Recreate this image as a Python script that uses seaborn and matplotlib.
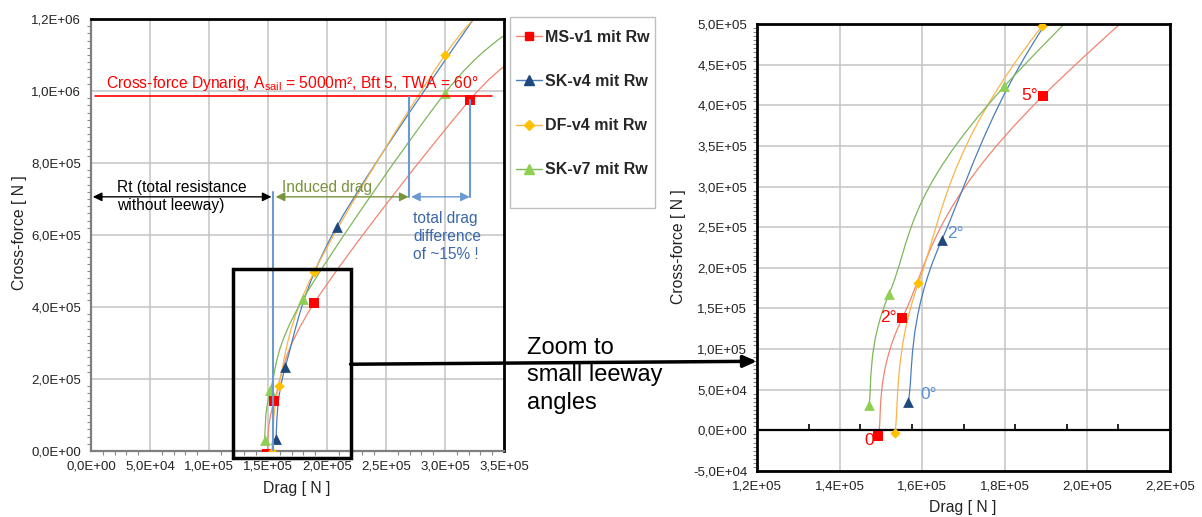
import numpy as np
import matplotlib
matplotlib.use("Agg")
import matplotlib.pyplot as plt
import seaborn as sns
from matplotlib.path import Path
from matplotlib.patches import PathPatch, Rectangle, ConnectionPatch
from matplotlib.lines import Line2D
from matplotlib.ticker import FuncFormatter, MultipleLocator, FixedLocator

# ---------------- data ----------------
series_names = ["MS-v1 mit Rw", "SK-v4 mit Rw", "DF-v4 mit Rw", "SK-v7 mit Rw"]

ms_v1_drag = [149400, 155200, 189300, 321000, 375000]
ms_v1_cross = [-7400, 138300, 411800, 975000, 1120000]

sk_v4_drag = [156600, 164700, 208200, 345000]
sk_v4_cross = [34400, 233800, 623000, 1300000]

df_v4_drag = [153400, 159100, 189100, 300000, 355000]
df_v4_cross = [-3300, 181300, 498000, 1100000, 1290000]

sk_v7_drag = [147100, 152000, 179900, 300000, 360000]
sk_v7_cross = [30800, 168200, 423300, 994000, 1180000]

dynarig_cross_force = 986000
rt_no_leeway = 154500
arrow_level = 706000
drag_sk = 269700
drag_ms = 321000

# ---------------- styling ----------------
sns.set_theme(style="white")
plt.rcParams["font.family"] = ["Liberation Sans", "DejaVu Sans"]
plt.rcParams["mathtext.fontset"] = "custom"
plt.rcParams["mathtext.rm"] = "Liberation Sans"

line_cols = ["#F28470", "#4A7EBB", "#F9B44C", "#7EB65A"]
mark_cols = ["#FF0000", "#1F497D", "#FFC000", "#8FD052"]
markers = ["s", "^", "D", "^"]
msizes = [45, 60, 28, 60]
data = [(ms_v1_drag, ms_v1_cross), (sk_v4_drag, sk_v4_cross),
        (df_v4_drag, df_v4_cross), (sk_v7_drag, sk_v7_cross)]

W, H = 1202, 517
fig = plt.figure(figsize=(W / 100, H / 100), dpi=100)
fig.patch.set_facecolor("white")

def px_rect(x0, y0, x1, y1):
    return [x0 / W, 1 - y1 / H, (x1 - x0) / W, (y1 - y0) / H]

ax1 = fig.add_axes(px_rect(91, 19, 504, 451))
ax2 = fig.add_axes(px_rect(757, 24, 1170, 471))

def smooth_path(xs, ys):
    pts = np.column_stack([xs, ys]).astype(float)
    n = len(pts)
    verts = [pts[0]]
    codes = [Path.MOVETO]
    for i in range(n - 1):
        pp = pts[max(i - 1, 0)]
        p0 = pts[i]
        p1 = pts[i + 1]
        pn = pts[min(i + 2, n - 1)]
        verts += [p0 + (p1 - pp) / 6, p1 - (pn - p0) / 6, p1]
        codes += [Path.CURVE4] * 3
    return Path(verts, codes)

fmt = FuncFormatter(lambda v, p: f"{v:.1E}".replace(".", ","))

for ax in (ax1, ax2):
    for (xs, ys), lc, mc, mk, ms in zip(data, line_cols, mark_cols, markers, msizes):
        ax.add_patch(PathPatch(smooth_path(xs, ys), fc="none", ec=lc, lw=0.9, zorder=2))
        sns.scatterplot(x=xs, y=ys, marker=mk, color=mc, s=ms, linewidth=0,
                        ax=ax, zorder=3, legend=False)
    ax.grid(True, color="#C4C4C4", lw=1.1)
    ax.set_axisbelow(True)
    ax.xaxis.set_major_formatter(fmt)
    ax.yaxis.set_major_formatter(fmt)
    ax.tick_params(axis="both", which="major", labelsize=9.5, colors="#222222",
                   length=0, pad=7)
    ax.tick_params(axis="y", which="minor", left=True, length=3, width=0.8,
                   color="#888888", direction="out")

# left axes
ax1.set_xlim(0, 350000)
ax1.set_ylim(0, 1200000)
ax1.xaxis.set_major_locator(MultipleLocator(50000))
ax1.yaxis.set_major_locator(MultipleLocator(200000))
ax1.xaxis.set_minor_locator(MultipleLocator(10000))
ax1.yaxis.set_minor_locator(MultipleLocator(20000))
ax1.tick_params(axis="x", which="minor", bottom=True, length=3, width=0.8,
                color="#888888", direction="out")
for s in ("top", "right"):
    ax1.spines[s].set_color("black")
    ax1.spines[s].set_linewidth(2)
for s in ("left", "bottom"):
    ax1.spines[s].set_color("#7F7F7F")
    ax1.spines[s].set_linewidth(1.6)

ax1.set_xlabel("Drag [ N ]", fontsize=11.3, color="#222222")
ax1.set_ylabel("Cross-force [ N ]", fontsize=11.3, color="#222222")
ax1.xaxis.set_label_coords(0.499, -0.086)
ax1.xaxis.label.set_verticalalignment("center")
ax1.yaxis.set_label_coords(-0.172, 0.505)
ax1.yaxis.label.set_verticalalignment("center")

# annotations in left axes
ax1.plot([3000, 340000], [dynarig_cross_force] * 2, color="#FF0000", lw=1.2, zorder=4)
ax1.text(12700, 1022000,
         r"Cross-force Dynarig, A$_\mathregular{sail}$ = 5000m², Bft 5, TWA = 60°",
         color="#FF0000", fontsize=11.25, va="center", ha="left")
blue_l = "#6A9AD0"
ax1.plot([rt_no_leeway] * 2, [0, 720000], color=blue_l, lw=1.5, zorder=4)
ax1.plot([drag_sk] * 2, [arrow_level, 984000], color=blue_l, lw=1.5, zorder=4)
ax1.plot([drag_ms] * 2, [arrow_level, 975000], color=blue_l, lw=1.5, zorder=4)
arr = "<|-|>,head_length=0.45,head_width=0.22"
ax1.annotate("", xy=(1500, arrow_level), xytext=(rt_no_leeway - 1500, arrow_level),
             arrowprops=dict(arrowstyle=arr, color="black", lw=1, shrinkA=0, shrinkB=0))
ax1.annotate("", xy=(rt_no_leeway + 2000, arrow_level), xytext=(drag_sk - 500, arrow_level),
             arrowprops=dict(arrowstyle=arr, color="#77933C", lw=1, shrinkA=0, shrinkB=0))
ax1.annotate("", xy=(drag_sk + 1500, arrow_level), xytext=(drag_ms, arrow_level),
             arrowprops=dict(arrowstyle=arr, color=blue_l, lw=1, shrinkA=0, shrinkB=0))
ax1.text(22000, arrow_level, "Rt (total resistance\nwithout leeway)", fontsize=11.2,
         color="black", va="center", ha="left", linespacing=1.25)
ax1.text(162000, 733000, "Induced drag", fontsize=11.2, color="#77933C",
         va="center", ha="left")
ax1.text(273000, 597000, "total drag\ndifference\nof ~15% !", fontsize=11.2,
         color="#3C68A8", va="center", ha="left", linespacing=1.25)
ax1.add_patch(Rectangle((120000, -20000), 100000, 525000, fill=False, ec="black",
                        lw=2.5, clip_on=False, zorder=5))

# right axes
ax2.set_xlim(120000, 220000)
ax2.set_ylim(-50000, 500000)
ax2.xaxis.set_major_locator(MultipleLocator(20000))
ax2.yaxis.set_major_locator(MultipleLocator(50000))
ax2.yaxis.set_minor_locator(MultipleLocator(5000))
for s in ax2.spines.values():
    s.set_color("black")
    s.set_linewidth(2)
ax2.axhline(0, color="black", lw=1.6, zorder=2.5)
sec = ax2.secondary_xaxis(50000 / 550000)
sec.spines["bottom"].set_visible(False)
sec.xaxis.set_major_locator(FixedLocator([132500, 145000, 157500, 170000,
                                          182500, 195000, 207500]))
sec.tick_params(axis="x", direction="in", length=4, width=1.2, color="black",
                labelbottom=False)
ax2.set_xlabel("Drag [ N ]", fontsize=11.3, color="#222222")
ax2.set_ylabel("Cross-force [ N ]", fontsize=11.3, color="#222222")
ax2.xaxis.set_label_coords(0.499, -0.081)
ax2.xaxis.label.set_verticalalignment("center")
ax2.yaxis.set_label_coords(-0.191, 0.501)
ax2.yaxis.label.set_verticalalignment("center")

lab_kw = dict(textcoords="offset points", fontsize=12.5, va="center")
ax2.annotate("0", xy=(ms_v1_drag[0], ms_v1_cross[0]), xytext=(-3, -3), ha="right",
             color="#FF0000", **lab_kw)
ax2.annotate("2°", xy=(ms_v1_drag[1], ms_v1_cross[1]), xytext=(-4, 0), ha="right",
             color="#FF0000", **lab_kw)
ax2.annotate("5°", xy=(ms_v1_drag[2], ms_v1_cross[2]), xytext=(-4, 0), ha="right",
             color="#FF0000", **lab_kw)
ax2.annotate("2°", xy=(sk_v4_drag[1], sk_v4_cross[1]), xytext=(4, 5), ha="left",
             color="#558ED5", **lab_kw)
ax2.annotate("0°", xy=(sk_v4_drag[0], sk_v4_cross[0]), xytext=(9, 6), ha="left",
             color="#558ED5", **lab_kw)

# zoom connector arrow
con = ConnectionPatch(xyA=(220000, 241000), coordsA=ax1.transData,
                      xyB=(120000, 85000), coordsB=ax2.transData,
                      arrowstyle="-|>,head_length=0.8,head_width=0.35",
                      color="black", lw=2.5, shrinkA=0, shrinkB=0, zorder=6)
fig.add_artist(con)
fig.text(527 / W, 1 - 337 / H, "Zoom to\nsmall leeway\nangles", fontsize=17,
         color="black", ha="left", va="top", linespacing=1.32)

# legend box
fig.add_artist(Rectangle((510 / W, 1 - 208 / H), 145 / W, 191 / H, fill=False,
                         ec="#BFBFBF", lw=1, transform=fig.transFigure))
handles = [Line2D([], [], color=lc, lw=1, marker=mk, markerfacecolor=mc,
                  markeredgecolor=mc, markersize=ms ** 0.5 * 0.95)
           for lc, mc, mk, ms in zip(line_cols, mark_cols, markers, msizes)]
leg = fig.legend(handles, series_names, loc="upper left",
                 bbox_to_anchor=(516 / W, 1 - 30 / H), frameon=False,
                 prop=dict(weight="bold", size=11.5), handlelength=1.6,
                 handletextpad=0.2, labelspacing=1.82, borderpad=0, borderaxespad=0)

fig.savefig("out.png", dpi=100, facecolor="white")
